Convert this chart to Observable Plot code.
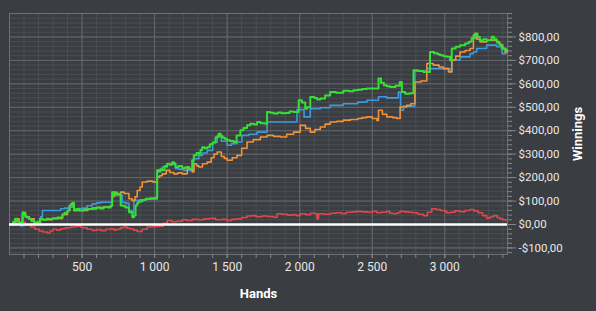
<!DOCTYPE html>
<html>
<head>
<meta charset="utf-8">
<script src="https://cdn.jsdelivr.net/npm/d3@7"></script>
<script src="https://cdn.jsdelivr.net/npm/@observablehq/plot@0.6"></script>
<style>
  html, body { margin: 0; padding: 0; background: #3a3d41; }
</style>
</head>
<body>
<div id="chart"></div>
<script>
// ---- data: [hand, winnings $] ----
const handTicks = [500, 1000, 1500, 2000, 2500, 3000];
const handMinorTicks = d3.range(100, 3500, 100);
const winTicks = [-100, 0, 100, 200, 300, 400, 500, 600, 700, 800];
const winMinorTicks = d3.range(-120, 901, 20);

const greenSeries = [[5,0],[25,12],[40,24],[52,14],[65,8],[90,51],[100,44],[110,33],[122,30],[135,24],[150,15],[170,8],[195,12],[210,24],[230,20],[255,24],[275,22],[295,26],[330,30],[365,43],[380,50],[400,60],[415,81],[425,88],[435,93],[445,60],[462,66],[480,60],[510,64],[540,66],[570,70],[600,72],[625,68],[650,75],[675,73],[697,80],[708,138],[720,130],[730,136],[740,131],[766,81],[785,78],[800,72],[823,52],[846,31],[858,38],[869,81],[880,92],[890,98],[915,104],[938,110],[970,112],[1000,114],[1018,231],[1030,226],[1040,236],[1052,231],[1068,248],[1087,259],[1105,255],[1121,266],[1133,258],[1144,245],[1165,250],[1190,240],[1210,244],[1236,238],[1259,274],[1270,295],[1290,305],[1305,302],[1316,318],[1328,330],[1345,325],[1362,330],[1380,342],[1400,350],[1420,372],[1442,387],[1456,376],[1470,370],[1485,365],[1500,359],[1520,356],[1545,352],[1565,380],[1591,402],[1612,412],[1637,423],[1660,430],[1685,426],[1706,437],[1730,432],[1763,430],[1775,480],[1795,477],[1821,473],[1850,478],[1875,474],[1900,476],[1930,482],[1958,480],[1993,530],[2015,520],[2038,494],[2050,500],[2073,544],[2100,540],[2120,533],[2142,537],[2175,550],[2210,565],[2250,562],[2300,570],[2340,568],[2370,573],[2400,575],[2430,578],[2463,580],[2543,623],[2560,605],[2580,594],[2600,590],[2623,587],[2660,592],[2690,608],[2704,565],[2727,558],[2760,560],[2784,658],[2815,655],[2852,651],[2898,736],[2925,730],[2950,726],[2967,722],[2990,718],[3013,715],[3036,701],[3048,751],[3075,758],[3105,765],[3140,772],[3165,780],[3185,794],[3208,815],[3225,800],[3242,786],[3265,790],[3288,786],[3323,801],[3340,790],[3357,779],[3375,768],[3392,751],[3420,743],[3432,743]];

const blueSeries = [[5,0],[40,24],[65,8],[77,-6],[90,40],[110,33],[135,24],[170,8],[215,33],[227,60],[352,67],[380,70],[410,74],[444,64],[470,68],[500,70],[535,80],[570,88],[600,92],[628,95],[708,138],[740,124],[777,94],[800,90],[823,60],[845,47],[857,103],[900,105],[940,108],[1018,231],[1052,245],[1087,259],[1121,262],[1144,238],[1170,235],[1200,231],[1270,281],[1305,295],[1330,305],[1362,316],[1400,350],[1431,380],[1460,355],[1500,338],[1530,345],[1568,352],[1602,380],[1650,385],[1706,394],[1775,437],[1850,437],[1958,437],[1981,490],[2030,459],[2073,494],[2142,498],[2210,508],[2300,515],[2400,522],[2463,530],[2543,545],[2600,540],[2680,565],[2695,487],[2715,505],[2794,655],[2876,665],[3036,651],[3048,701],[3105,715],[3174,729],[3197,736],[3220,751],[3288,765],[3357,758],[3395,729],[3420,736],[3432,736]];

const orangeSeries = [[5,0],[40,24],[65,8],[90,51],[110,33],[135,24],[170,8],[210,24],[230,20],[295,26],[365,43],[400,60],[415,81],[435,93],[445,60],[480,60],[540,66],[600,72],[650,75],[697,80],[708,120],[725,128],[740,131],[766,138],[790,132],[823,110],[845,103],[865,118],[880,145],[900,160],[915,181],[950,185],[985,182],[1018,202],[1035,208],[1052,216],[1080,231],[1105,222],[1133,216],[1160,220],[1190,216],[1225,245],[1240,236],[1259,224],[1271,259],[1290,250],[1305,245],[1330,259],[1362,266],[1390,285],[1410,300],[1431,309],[1460,290],[1480,282],[1500,274],[1535,285],[1568,295],[1600,325],[1637,352],[1680,362],[1729,373],[1775,380],[1820,376],[1867,373],[1910,385],[1958,394],[2004,423],[2040,410],[2073,394],[2105,405],[2142,416],[2175,428],[2210,437],[2255,440],[2300,445],[2350,448],[2400,452],[2430,456],[2463,459],[2500,452],[2532,444],[2543,487],[2570,470],[2600,459],[2640,456],[2669,452],[2692,501],[2738,508],[2765,515],[2794,608],[2835,612],[2876,687],[2920,680],[2960,672],[2990,665],[3025,651],[3048,701],[3075,718],[3105,736],[3140,742],[3174,751],[3197,808],[3220,790],[3242,779],[3290,786],[3334,786],[3360,775],[3380,765],[3400,750],[3415,736],[3432,736]];

const redSeries = [[5,0],[40,6],[77,10],[110,-2],[146,-11],[175,-20],[204,-28],[230,-32],[261,-36],[280,-28],[300,-20],[325,-24],[352,-18],[385,-14],[421,-11],[456,-7],[490,-11],[502,-14],[535,-20],[570,-25],[600,-22],[630,-26],[665,-20],[697,-18],[720,-24],[740,-20],[765,-14],[788,-11],[810,-16],[830,-18],[855,-24],[880,-30],[915,-20],[949,-11],[990,-8],[1041,-7],[1060,5],[1087,17],[1120,12],[1150,14],[1190,20],[1224,17],[1260,22],[1300,20],[1339,24],[1380,26],[1420,20],[1460,22],[1500,17],[1530,22],[1560,24],[1600,30],[1637,36],[1670,38],[1700,33],[1740,36],[1780,34],[1821,31],[1844,46],[1880,44],[1915,40],[1950,42],[1975,38],[2004,46],[2040,42],[2075,48],[2110,46],[2119,24],[2130,46],[2170,44],[2210,48],[2250,50],[2290,46],[2320,52],[2360,54],[2394,56],[2430,54],[2470,52],[2500,56],[2531,50],[2560,52],[2600,56],[2620,48],[2646,46],[2670,50],[2692,56],[2720,54],[2750,52],[2780,50],[2815,44],[2852,38],[2880,52],[2910,67],[2940,64],[2970,60],[3000,56],[3013,50],[3040,52],[3070,58],[3100,55],[3140,60],[3174,64],[3200,58],[3230,50],[3260,38],[3288,27],[3310,32],[3334,38],[3360,30],[3380,24],[3400,20],[3420,17]];

const money = v => (v < 0 ? "-$" : "$") + Math.abs(v) + ",00";
const handsFmt = v => d3.format(",")(v).replace(/,/g, " ");

const lineOpts = (color, w, curve) => ({x: d => d[0], y: d => d[1], stroke: color, strokeWidth: w, curve});

const chart = Plot.plot({
  width: 596,
  height: 311,
  marginLeft: 9,
  marginTop: 13,
  marginRight: 89,
  marginBottom: 57,
  style: {background: "#3a3d41", color: "#e8e8e8", fontFamily: "Roboto, 'Noto Sans', sans-serif", fontSize: "11.5px", overflow: "visible"},
  x: {domain: [0, 3432]},
  y: {domain: [-128, 900]},
  marks: [
    Plot.gridX(handMinorTicks, {stroke: "#4b4e52", strokeOpacity: 1}),
    Plot.gridY(winMinorTicks, {stroke: "#4b4e52", strokeOpacity: 1}),
    Plot.gridX(handTicks, {stroke: "#65686c", strokeOpacity: 1}),
    Plot.gridY(winTicks, {stroke: "#65686c", strokeOpacity: 1}),
    Plot.frame({stroke: "#6d7074"}),
    Plot.line(redSeries, lineOpts("#e0474c", 1.6, "step-after")),
    Plot.line(blueSeries, lineOpts("#3c9ade", 1.6, "step-after")),
    Plot.line(orangeSeries, lineOpts("#f0923a", 1.6, "step-after")),
    Plot.line(greenSeries, lineOpts("#35e035", 2, "step-after")),
    Plot.ruleY([0], {stroke: "white", strokeWidth: 2.5}),
    Plot.axisX(handMinorTicks, {tickSize: 4, stroke: "#85888c", text: null, label: null}),
    Plot.axisX(handTicks, {tickSize: 4, tickPadding: 4, stroke: "#85888c", tickFormat: handsFmt,
      label: "Hands", labelAnchor: "center", labelArrow: "none", labelOffset: 43,
      fontSize: 12}),
    Plot.axisY(winMinorTicks, {anchor: "right", tickSize: 4, stroke: "#85888c", text: null, label: null}),
    Plot.axisY(winTicks, {anchor: "right", tickSize: 8, tickPadding: 3, stroke: "#85888c", tickFormat: money,
      label: "Winnings", labelAnchor: "center", labelArrow: "none", labelOffset: 74})
  ]
});

// bold, white axis titles
chart.querySelectorAll("[aria-label$='axis label'] text").forEach(t => {
  t.setAttribute("font-weight", "bold");
  t.setAttribute("font-size", "13");
  t.setAttribute("fill", "#ffffff");
});
document.getElementById("chart").appendChild(chart);
</script>
</body>
</html>
